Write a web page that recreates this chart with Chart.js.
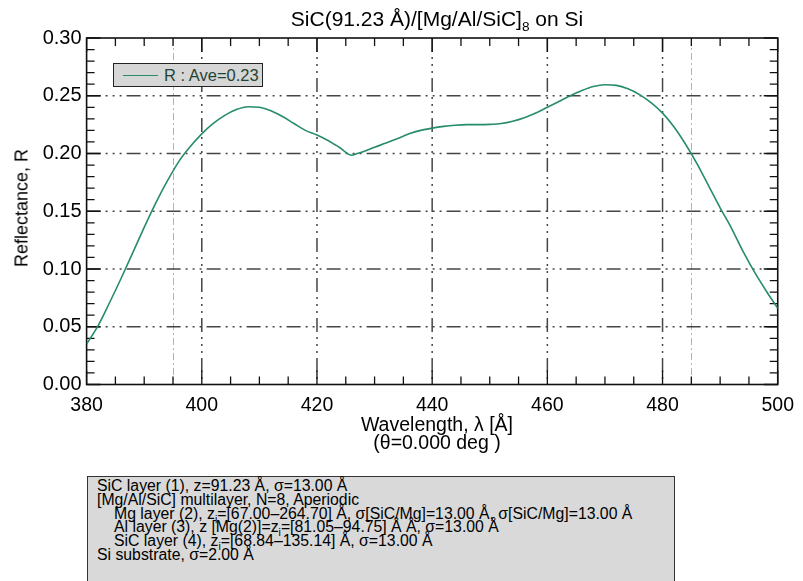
<!DOCTYPE html>
<html>
<head>
<meta charset="utf-8">
<script src="https://cdn.jsdelivr.net/npm/chart.js@4.4.1/dist/chart.umd.min.js"></script>
<style>
    body { margin: 0; background: #fff; }
    #wrap { position: relative; width: 803px; height: 581px; overflow: hidden; font-family: "Liberation Sans", Arial, sans-serif; color: #000; }
    #chart { position: absolute; left: 0; top: 0; }
    .title { position: absolute; left: 87px; width: 700px; top: 7px; text-align: center; font-size: 21px; line-height: 24px; }
    .xtitle { position: absolute; left: 87px; width: 700px; top: 415px; text-align: center; font-size: 19.5px; line-height: 18px; }
    .ytitle { position: absolute; left: 22px; top: 208px; font-size: 18px; white-space: nowrap; transform: translate(-50%, -50%) rotate(-90deg); }
    .legend { position: absolute; left: 113px; top: 63px; width: 148px; height: 22px; background: #d6d6d6; border: 1.5px solid #222; }
    .legend .ln { position: absolute; left: 9px; top: 11px; width: 35px; border-top: 1.5px solid #268c69; }
    .legend .tx { position: absolute; left: 50px; top: 2px; font-size: 16.5px; line-height: 18px; color: #1f4434; }
    .info { position: absolute; left: 87px; top: 476px; width: 588px; height: 120px; background: #d9d9d9; border: 1.5px solid #333; font-size: 15.8px; line-height: 13.8px; padding: 2px 0 0 9px; box-sizing: border-box; }
    .info .ind { padding-left: 17px; }
    sub { font-size: 65%; line-height: 0; }
</style>
</head>
<body>
<div id="wrap">
    <canvas id="chart" width="803" height="581"></canvas>
    <div class="title">SiC(91.23 Å)/[Mg/Al/SiC]<sub>8</sub> on Si</div>
    <div class="xtitle">Wavelength, λ [Å]<br>(θ=0.000 deg )</div>
    <div class="ytitle">Reflectance, R</div>
    <div class="legend"><div class="ln"></div><div class="tx">R : Ave=0.23</div></div>
    <div class="info">
        <div>SiC layer (1), z=91.23 Å, σ=13.00 Å</div>
        <div>[Mg/Al/SiC] multilayer, N=8, Aperiodic</div>
        <div class="ind">Mg layer (2), z<sub>i</sub>=[67.00–264.70] Å, σ[SiC/Mg]=13.00 Å, σ[SiC/Mg]=13.00 Å</div>
        <div class="ind">Al layer (3), z [Mg(2)]=z<sub>i</sub>=[81.05–94.75] Å Å, σ=13.00 Å</div>
        <div class="ind">SiC layer (4), z<sub>i</sub>=[68.84–135.14] Å, σ=13.00 Å</div>
        <div>Si substrate, σ=2.00 Å</div>
    </div>
</div>
<script>
const wavelength = [380, 382, 384, 386, 388, 390, 392, 394, 396, 398,
    400, 402, 404, 406, 408, 410, 412, 414, 416, 418,
    420, 422, 423, 424, 425, 426, 427, 428, 430, 432, 434, 436, 438,
    440, 442, 444, 446, 448, 450, 452, 454, 456, 458,
    460, 462, 464, 466, 468, 470, 472, 474, 476, 478,
    480, 482, 484, 486, 488, 490, 492, 494, 496, 498, 500];
const reflectance = [0.035, 0.051, 0.071, 0.092, 0.114, 0.136, 0.157, 0.176, 0.193, 0.206,
    0.217, 0.226, 0.233, 0.238, 0.2405, 0.240, 0.237, 0.232, 0.226, 0.220,
    0.216, 0.211, 0.208, 0.205, 0.201, 0.1985, 0.200, 0.2015, 0.2055, 0.209, 0.213, 0.217, 0.220,
    0.222, 0.2235, 0.2245, 0.225, 0.225, 0.2252, 0.226, 0.228, 0.231, 0.235,
    0.240, 0.245, 0.250, 0.2545, 0.258, 0.2595, 0.259, 0.256, 0.251, 0.244,
    0.235, 0.223, 0.208, 0.191, 0.172, 0.153, 0.135, 0.115, 0.097, 0.081, 0.066];
const xMajor = [400, 420, 440, 460, 480];
const yMajor = [0.05, 0.10, 0.15, 0.20, 0.25];
const xFaint = [395, 485];

const points = wavelength.map((w, i) => ({x: w, y: reflectance[i]}));

// grid, inward ticks and frame, IDL style
const idlFrame = {
    id: 'idlFrame',
    beforeDatasetsDraw(chart) {
        const ctx = chart.ctx;
        const a = chart.chartArea;
        const xs = chart.scales.x, ys = chart.scales.y;
        ctx.save();
        ctx.strokeStyle = '#b3b3b3';
        ctx.lineWidth = 1;
        ctx.setLineDash([7, 3, 2, 3]);
        xFaint.forEach(v => {
            const px = Math.round(xs.getPixelForValue(v)) + 0.5;
            ctx.beginPath(); ctx.moveTo(px, a.top); ctx.lineTo(px, a.bottom); ctx.stroke();
        });
        ctx.strokeStyle = '#454545';
        ctx.lineWidth = 1.5;
        ctx.setLineDash([14, 5, 2, 5, 2, 5, 2, 5]);
        xMajor.forEach(v => {
            const px = xs.getPixelForValue(v);
            ctx.beginPath(); ctx.moveTo(px, a.top); ctx.lineTo(px, a.bottom); ctx.stroke();
        });
        yMajor.forEach(v => {
            const py = ys.getPixelForValue(v);
            ctx.beginPath(); ctx.moveTo(a.left, py); ctx.lineTo(a.right, py); ctx.stroke();
        });
        ctx.setLineDash([]);
        ctx.strokeStyle = '#111';
        ctx.lineWidth = 1.3;
        for (let v = 380; v <= 500; v += 5) {
            const px = xs.getPixelForValue(v);
            const len = (v % 20 === 0) ? 14 : 8;
            ctx.beginPath();
            ctx.moveTo(px, a.bottom); ctx.lineTo(px, a.bottom - len);
            ctx.moveTo(px, a.top); ctx.lineTo(px, a.top + len);
            ctx.stroke();
        }
        for (let k = 0; k <= 30; k++) {
            const py = ys.getPixelForValue(k / 100);
            const len = (k % 5 === 0) ? 14 : 8;
            ctx.beginPath();
            ctx.moveTo(a.left, py); ctx.lineTo(a.left + len, py);
            ctx.moveTo(a.right, py); ctx.lineTo(a.right - len, py);
            ctx.stroke();
        }
        ctx.lineWidth = 1.6;
        ctx.strokeRect(a.left, a.top, a.right - a.left, a.bottom - a.top);
        ctx.restore();
    }
};

new Chart(document.getElementById('chart'), {
    type: 'line',
    data: {
        datasets: [{
            label: 'R : Ave=0.23',
            data: points,
            borderColor: '#268c69',
            borderWidth: 1.6,
            pointRadius: 0,
            cubicInterpolationMode: 'monotone',
            fill: false
        }]
    },
    options: {
        responsive: false,
        animation: false,
        layout: {padding: {top: 38, right: 16, left: 0, bottom: 0}},
        plugins: {legend: {display: false}, tooltip: {enabled: false}},
        scales: {
            x: {
                type: 'linear',
                min: 380,
                max: 500,
                grid: {display: false, drawTicks: false},
                border: {display: false},
                ticks: {
                    stepSize: 20,
                    padding: 9,
                    color: '#000',
                    font: {family: '"Liberation Sans", Arial, sans-serif', size: 19.5}
                },
                afterFit: s => { s.height = 581 - 384.5; }
            },
            y: {
                min: 0,
                max: 0.30,
                grid: {display: false, drawTicks: false},
                border: {display: false},
                ticks: {
                    stepSize: 0.05,
                    padding: 5,
                    color: '#000',
                    font: {family: '"Liberation Sans", Arial, sans-serif', size: 20},
                    callback: v => v.toFixed(2)
                },
                afterFit: s => { s.width = 86.6; }
            }
        }
    },
    plugins: [idlFrame]
});
</script>
</body>
</html>
